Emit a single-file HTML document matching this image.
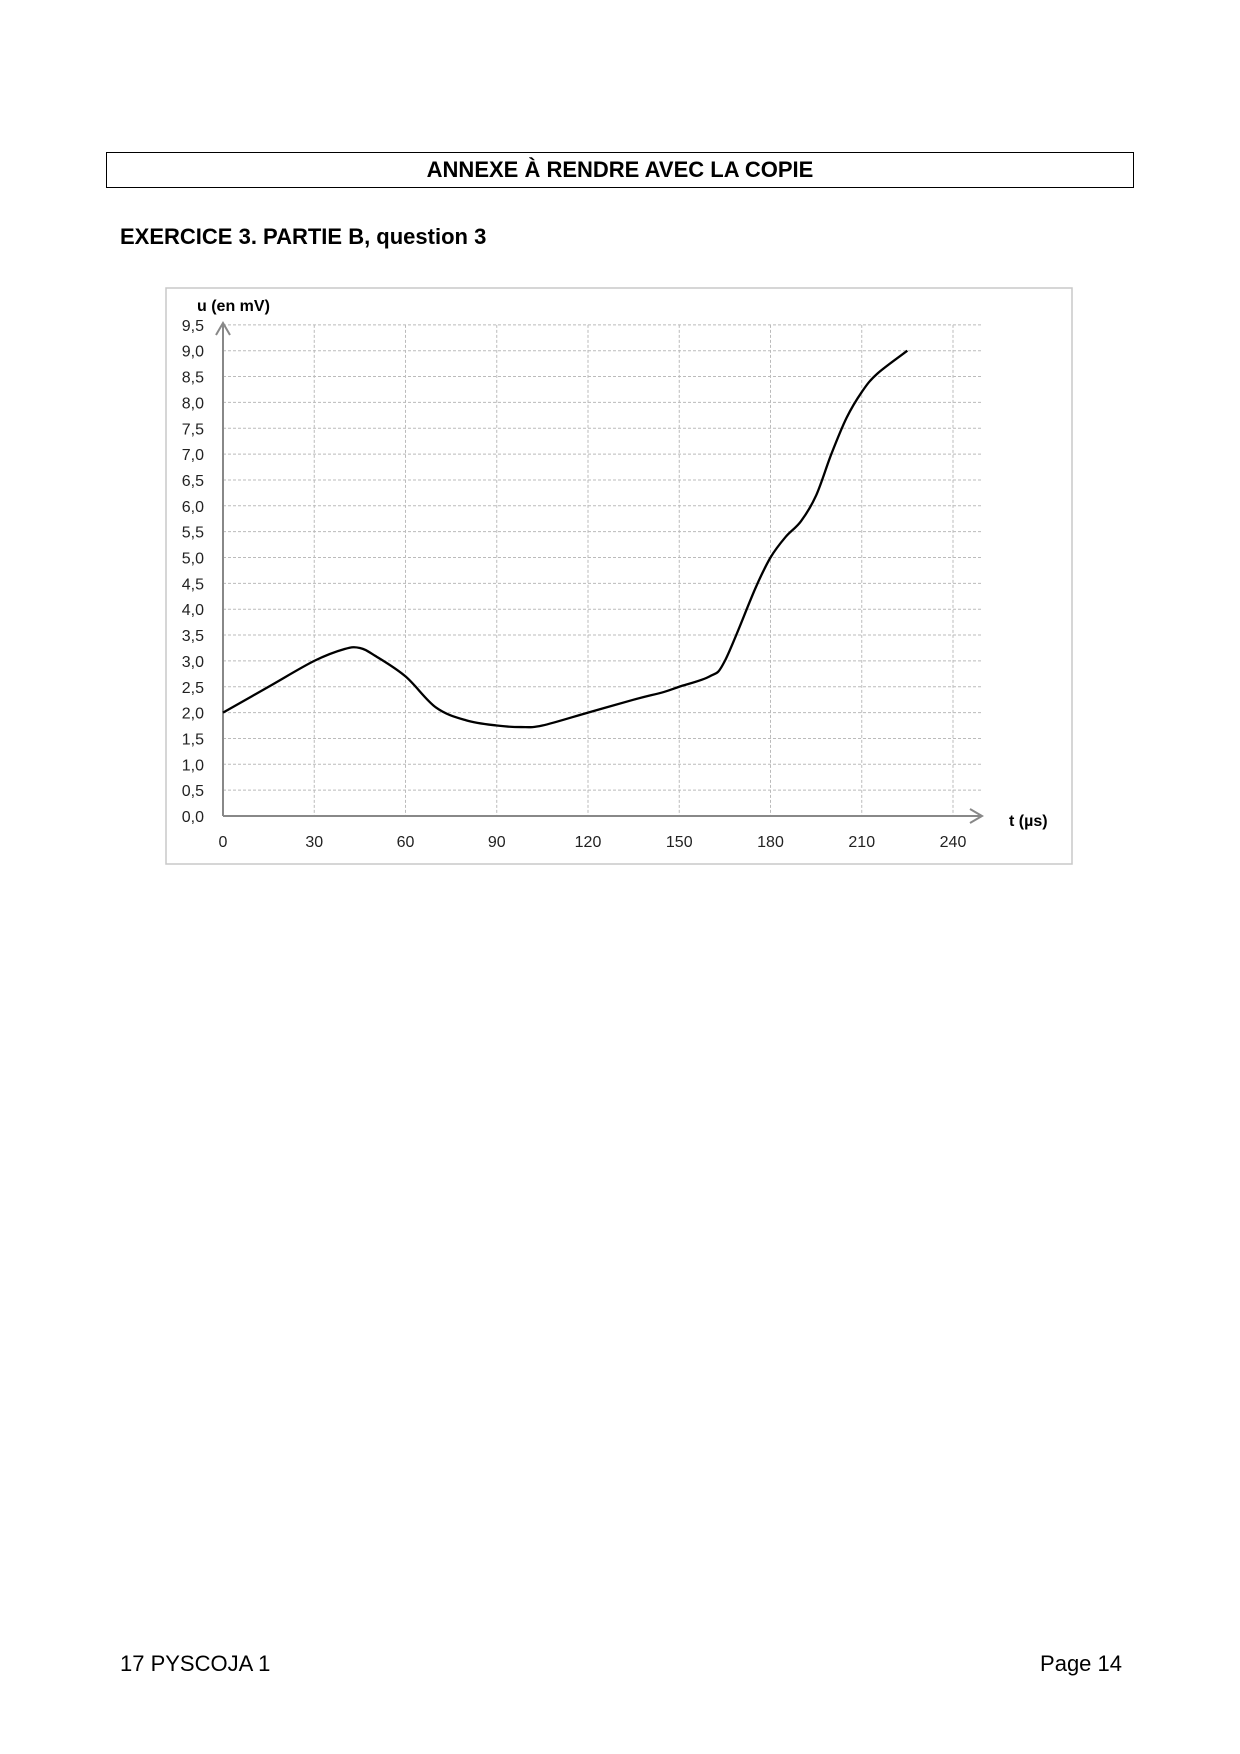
<!DOCTYPE html>
<html><head><meta charset="utf-8"><style>
body{margin:0;background:#fff;width:1240px;height:1754px;position:relative;font-family:"Liberation Sans",Arial,sans-serif;}
.box{position:absolute;left:106px;top:152px;width:1026px;height:34px;border:1px solid #000;text-align:center;font-weight:bold;font-size:22px;line-height:34px;}
.h{position:absolute;left:120px;top:224px;font-weight:bold;font-size:22px;}
.f{position:absolute;top:1651px;font-size:22px;}
</style></head><body>
<div class="box">ANNEXE À RENDRE AVEC LA COPIE</div>
<div class="h">EXERCICE 3. PARTIE B, question 3</div>
<svg id="s" width="1240" height="1754" style="position:absolute;left:0;top:0" font-family="Liberation Sans, Arial, sans-serif">
<rect x="166" y="288" width="906" height="576" fill="none" stroke="#c8c8c8" stroke-width="1.5"/>
<g id="g"></g>
<path id="c" fill="none" stroke="#000" stroke-width="2.3"/>
</svg>
<div class="f" style="left:120px">17 PYSCOJA 1</div>
<div class="f" style="right:118px">Page 14</div>
<script>
var X=t=>223+t*730/240, Y=u=>816-51.7*u, g=document.getElementById('g'), h='';
for(var i=0;i<=19;i++){var u=i*0.5,y=Y(u);
 if(i>0)h+=`<line x1="223" x2="982" y1="${y}" y2="${y}" stroke="#bbb" stroke-dasharray="3,2"/>`;
 h+=`<text x="204" y="${y+6}" font-size="16" text-anchor="end" fill="#222">${u.toFixed(1).replace('.',',')}</text>`;}
for(var t=0;t<=240;t+=30){var x=X(t);
 if(t>0)h+=`<line x1="${x}" x2="${x}" y1="${Y(9.5)}" y2="816" stroke="#bbb" stroke-dasharray="3,2"/>`;
 h+=`<text x="${x}" y="847" font-size="16" text-anchor="middle" fill="#222">${t}</text>`;}
h+=`<line x1="223" y1="816" x2="223" y2="323" stroke="#888" stroke-width="2"/><polyline points="216,335 223,323 230,335" fill="none" stroke="#888" stroke-width="2"/>`;
h+=`<line x1="223" y1="816" x2="982" y2="816" stroke="#888" stroke-width="2"/><polyline points="970,809 982,816 970,823" fill="none" stroke="#888" stroke-width="2"/>`;
h+=`<text x="197" y="311" font-size="16" font-weight="bold">u (en mV)</text><text x="1009" y="826" font-size="16" font-weight="bold">t (µs)</text>`;
g.innerHTML=h;
var d=[[0,2],[15,2.5],[30,3],[40,3.23],[45,3.25],[50,3.1],[60,2.7],[70,2.1],[80,1.85],[90,1.75],[98,1.72],[105,1.75],[120,2],[135,2.25],[145,2.4],[150,2.5],[160,2.7],[165,3],[175,4.4],[180,5],[185,5.4],[190,5.7],[195,6.2],[200,7],[205,7.7],[210,8.2],[215,8.55],[225,9]].map(p=>[X(p[0]),Y(p[1])]);
var s='M'+d[0];for(var i=0;i<d.length-1;i++){var p0=d[i-1]||d[i],p1=d[i],p2=d[i+1],p3=d[i+2]||p2;
 s+=` C${p1[0]+(p2[0]-p0[0])/6},${p1[1]+(p2[1]-p0[1])/6} ${p2[0]-(p3[0]-p1[0])/6},${p2[1]-(p3[1]-p1[1])/6} ${p2[0]},${p2[1]}`;}
document.getElementById('c').setAttribute('d',s);
</script>
</body></html>
